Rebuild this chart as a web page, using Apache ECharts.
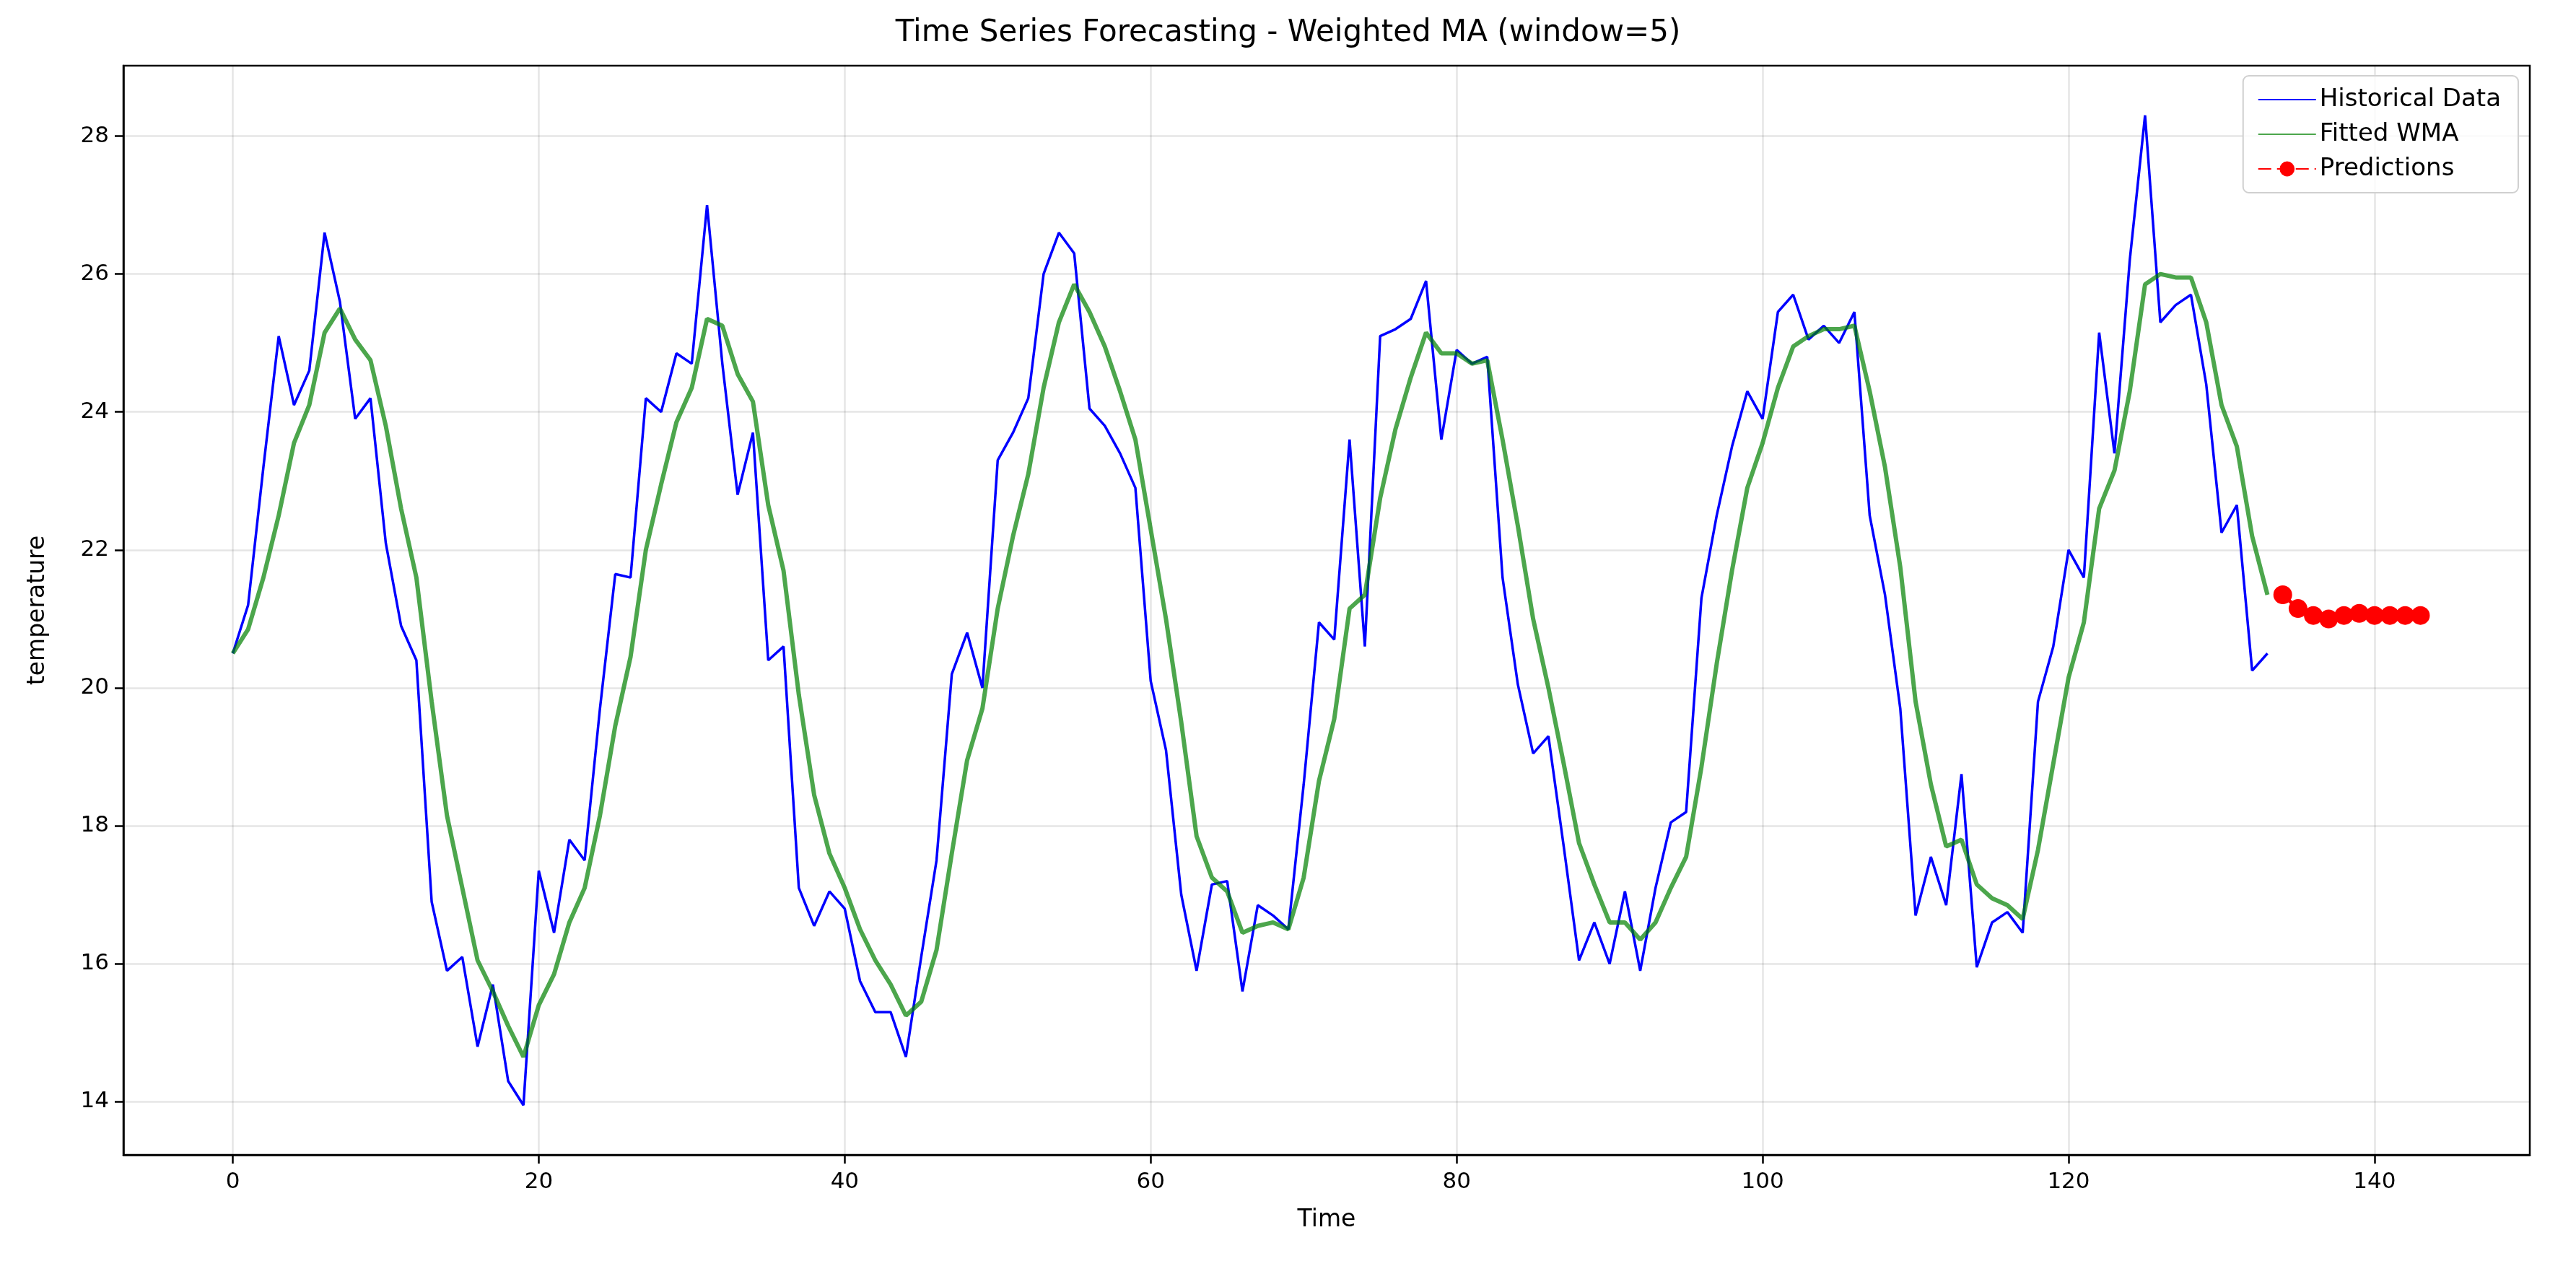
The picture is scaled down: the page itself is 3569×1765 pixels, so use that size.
<!DOCTYPE html>
<html>
<head>
<meta charset="utf-8">
<script src="https://cdn.jsdelivr.net/npm/echarts@6/dist/echarts.min.js"></script>
<style>
  html, body { margin: 0; padding: 0; background: #fff; }
  #main { width: 3569px; height: 1765px; }
</style>
</head>
<body>
<div id="main"></div>
<script>
// historical series, t = 0..133
const historical = [
  20.5, 21.2, 23.2, 25.1, 24.1, 24.6, 26.6, 25.6, 23.9, 24.2,
  22.1, 20.9, 20.4, 16.9, 15.9, 16.1, 14.8, 15.7, 14.3, 13.95,
  17.35, 16.45, 17.8, 17.5, 19.7, 21.65, 21.6, 24.2, 24.0, 24.85,
  24.7, 27.0, 24.7, 22.8, 23.7, 20.4, 20.6, 17.1, 16.55, 17.05,
  16.8, 15.75, 15.3, 15.3, 14.65, 16.1, 17.5, 20.2, 20.8, 20.0,
  23.3, 23.7, 24.2, 26.0, 26.6, 26.3, 24.05, 23.8, 23.4, 22.9,
  20.1, 19.1, 17.0, 15.9, 17.15, 17.2, 15.6, 16.85, 16.7, 16.5,
  18.6, 20.95, 20.7, 23.6, 20.6, 25.1, 25.2, 25.35, 25.9, 23.6,
  24.9, 24.7, 24.8, 21.6, 20.05, 19.05, 19.3, 17.7, 16.05, 16.6,
  16.0, 17.05, 15.9, 17.1, 18.05, 18.2, 21.3, 22.5, 23.5, 24.3,
  23.9, 25.45, 25.7, 25.05, 25.25, 25.0, 25.45, 22.5, 21.35, 19.7,
  16.7, 17.55, 16.85, 18.75, 15.95, 16.6, 16.75, 16.45, 19.8, 20.6,
  22.0, 21.6, 25.15, 23.4, 26.2, 28.3, 25.3, 25.55, 25.7, 24.4,
  22.25, 22.65, 20.25, 20.5
];

// fitted weighted moving average, t = 0..133
const fittedWMA = [
  20.5, 20.85, 21.6, 22.5, 23.55, 24.1, 25.15, 25.5, 25.05, 24.75,
  23.8, 22.6, 21.6, 19.8, 18.15, 17.1, 16.05, 15.6, 15.1, 14.65,
  15.4, 15.85, 16.6, 17.1, 18.15, 19.45, 20.45, 22.0, 22.95, 23.85,
  24.35, 25.35, 25.25, 24.55, 24.15, 22.65, 21.7, 19.9, 18.45, 17.6,
  17.1, 16.5, 16.05, 15.7, 15.25, 15.45, 16.2, 17.6, 18.95, 19.7,
  21.15, 22.2, 23.1, 24.35, 25.3, 25.85, 25.45, 24.95, 24.3, 23.6,
  22.3, 21.0, 19.5, 17.85, 17.25, 17.05, 16.45, 16.55, 16.6, 16.5,
  17.25, 18.65, 19.55, 21.15, 21.35, 22.75, 23.75, 24.5, 25.15, 24.85,
  24.85, 24.7, 24.75, 23.6, 22.35, 21.0, 20.0, 18.9, 17.75, 17.15,
  16.6, 16.6, 16.35, 16.6, 17.1, 17.55, 18.85, 20.35, 21.7, 22.9,
  23.55, 24.35, 24.95, 25.1, 25.2, 25.2, 25.25, 24.3, 23.2, 21.75,
  19.8, 18.6, 17.7, 17.8, 17.15, 16.95, 16.85, 16.65, 17.65, 18.9,
  20.15, 20.95, 22.6, 23.15, 24.3, 25.85, 26.0, 25.95, 25.95, 25.3,
  24.1, 23.5, 22.2, 21.35
];

// forecast, t = 134..143
const predStart = 134;
const predictions = [21.35, 21.15, 21.05, 21.0, 21.05, 21.08, 21.05, 21.05, 21.05, 21.05];

const xTicks = [0, 20, 40, 60, 80, 100, 120, 140];
const yTicks = [14, 16, 18, 20, 22, 24, 26, 28];

const FONT = "DejaVu Sans";
const pairs = (arr, start) => arr.map((v, i) => [start + i, v]);

const chart = echarts.init(document.getElementById("main"));
chart.setOption({
  animation: false,
  textStyle: { fontFamily: FONT },
  title: {
    text: "Time Series Forecasting - Weighted MA (window=5)",
    left: "center",
    top: 20,
    textStyle: { fontFamily: FONT, fontSize: 42, fontWeight: "normal", color: "#000" }
  },
  grid: {
    left: 171, right: 64, top: 91, bottom: 165,
    show: true, borderColor: "#000", borderWidth: 2.5, backgroundColor: "transparent"
  },
  legend: {
    orient: "vertical",
    right: 80, top: 105,
    itemWidth: 80, itemHeight: 26, itemGap: 14,
    padding: [16, 24, 16, 20],
    borderColor: "#d0d0d0", borderWidth: 2, borderRadius: 8,
    backgroundColor: "rgba(255,255,255,0.8)",
    textStyle: { fontFamily: FONT, fontSize: 34, color: "#000" },
    data: [
      { name: "Historical Data", itemStyle: { opacity: 0 } },
      { name: "Fitted WMA", itemStyle: { opacity: 0 } },
      { name: "Predictions" }
    ]
  },
  xAxis: {
    type: "value",
    min: -7.15, max: 150.15,
    name: "Time", nameLocation: "middle", nameGap: 74,
    nameTextStyle: { fontFamily: FONT, fontSize: 33, color: "#000" },
    axisLine: { show: true, onZero: false, lineStyle: { color: "#000", width: 2.5 } },
    axisTick: { show: true, customValues: xTicks, length: 12, lineStyle: { color: "#000", width: 2.5 } },
    axisLabel: { customValues: xTicks, fontFamily: FONT, fontSize: 31, color: "#000", margin: 22 },
    splitLine: { show: true, lineStyle: { color: "rgba(0,0,0,0.1)", width: 2.5 } }
  },
  yAxis: {
    type: "value",
    min: 13.23, max: 29.02,
    name: "temperature", nameLocation: "middle", nameGap: 102,
    nameTextStyle: { fontFamily: FONT, fontSize: 33, color: "#000" },
    axisLine: { show: true, onZero: false, lineStyle: { color: "#000", width: 2.5 } },
    axisTick: { show: true, customValues: yTicks, length: 12, lineStyle: { color: "#000", width: 2.5 } },
    axisLabel: { customValues: yTicks, fontFamily: FONT, fontSize: 31, color: "#000", margin: 20 },
    splitLine: { show: true, lineStyle: { color: "rgba(0,0,0,0.1)", width: 2.5 } }
  },
  series: [
    {
      name: "Historical Data", type: "line", data: pairs(historical, 0),
      symbol: "none", color: "#0000ff",
      lineStyle: { color: "#0000ff", width: 3.5 }
    },
    {
      name: "Fitted WMA", type: "line", data: pairs(fittedWMA, 0),
      symbol: "none", color: "rgba(0,128,0,0.7)",
      lineStyle: { color: "rgba(0,128,0,0.7)", width: 6 }
    },
    {
      name: "Predictions", type: "line", data: pairs(predictions, predStart),
      symbol: "circle", symbolSize: 26, color: "#ff0000",
      itemStyle: { color: "#ff0000" },
      lineStyle: { color: "#ff0000", width: 5, type: [18, 8] }
    }
  ]
});
</script>
</body>
</html>
